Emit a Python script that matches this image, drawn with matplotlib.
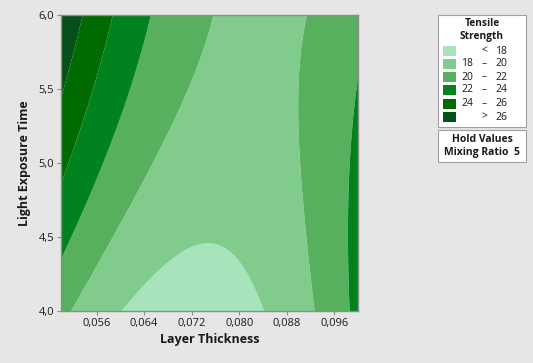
import numpy as np
import matplotlib.pyplot as plt
from matplotlib.patches import Rectangle

plt.rcParams['font.family'] = ['Open Sans', 'DejaVu Sans']

# Points lying on the Tensile Strength contour lines (Mixing Ratio held at 5)
contour_level = [26, 26, 24, 24, 22, 22, 22, 22, 22,
                 20, 20, 20, 20, 20, 20, 18, 18, 18]
contour_thickness = [0.05359, 0.0500, 0.05887, 0.0500, 0.06527, 0.0500, 0.0986, 0.1000, 0.09848,
                     0.07554, 0.09175, 0.0518, 0.09276, 0.0897, 0.0650, 0.06022, 0.08434, 0.0748]
contour_exposure = [6.000, 5.444, 6.000, 4.872, 6.000, 4.345, 4.000, 5.549, 5.020,
                    6.000, 6.000, 4.000, 4.000, 5.135, 5.000, 4.000, 4.000, 4.441]

band_edges = [18, 20, 22, 24, 26]
band_labels = [('', '<', '18'), ('18', '–', '20'), ('20', '–', '22'),
               ('22', '–', '24'), ('24', '–', '26'), ('', '>', '26')]
band_colors = ['#a7e4bb', '#81cc8c', '#57b05d', '#00831f', '#006b00', '#054f1b']

x_ticks = [0.056, 0.064, 0.072, 0.080, 0.088, 0.096]
y_ticks = [4.0, 4.5, 5.0, 5.5, 6.0]
x_range = (0.05, 0.10)
y_range = (4.0, 6.0)

# Full quadratic response surface fitted through the contour points
def design(x, y):
    u = (np.asarray(x) - 0.075) / 0.025
    v = np.asarray(y) - 5.0
    return np.stack([np.ones_like(u), u, v, u * u, v * v, u * v], axis=-1)

coef, *_ = np.linalg.lstsq(design(contour_thickness, contour_exposure),
                           np.asarray(contour_level, float), rcond=None)

gx = np.linspace(*x_range, 400)
gy = np.linspace(*y_range, 400)
GX, GY = np.meshgrid(gx, gy)
GZ = design(GX, GY) @ coef

W, H = 533, 363
fig = plt.figure(figsize=(W / 100, H / 100), dpi=100)
fig.patch.set_facecolor('#e6e6e6')

def fx(px):
    return px / W

def fy(py):
    return 1 - py / H

ax = fig.add_axes([fx(61), fy(311), fx(358) - fx(61), fy(15) - fy(311)])
levels = [min(GZ.min(), 0)] + band_edges + [max(GZ.max(), 100)]
ax.contourf(GX, GY, GZ, levels=levels, colors=band_colors, antialiased=True)
ax.set_xlim(*x_range)
ax.set_ylim(*y_range)

ax.set_xticks(x_ticks)
ax.set_xticklabels([f'{t:.3f}'.replace('.', ',') for t in x_ticks])
ax.set_yticks(y_ticks)
ax.set_yticklabels([f'{t:.1f}'.replace('.', ',') for t in y_ticks])
ax.tick_params(axis='both', labelsize=8, color='#8c8c8c', length=3, width=0.8,
               labelcolor='#1a1a1a', pad=2)
for s in ax.spines.values():
    s.set_color('#8c8c8c')
    s.set_linewidth(1.0)

ax.set_xlabel('Layer Thickness', fontsize=9, fontweight='bold', color='#1a1a1a', labelpad=3)
ax.set_ylabel('Light Exposure Time', fontsize=9, fontweight='bold', color='#1a1a1a', labelpad=5)

# Legend box for the contour bands
box_l, box_r = 438, 526
fig.patches.append(Rectangle((fx(box_l), fy(126.5)), fx(box_r) - fx(box_l), fy(15) - fy(126.5),
                             transform=fig.transFigure, facecolor='white',
                             edgecolor='#a0a0a0', linewidth=0.8))
fig.text(fx(482), fy(24), 'Tensile', ha='center', va='center', fontsize=7.3,
         fontweight='bold', color='#1a1a1a')
fig.text(fx(482), fy(36), 'Strength', ha='center', va='center', fontsize=7.3,
         fontweight='bold', color='#1a1a1a')
row_y = [51, 64, 77, 90, 103.5, 117]
for (lo, sep, hi), col, ry in zip(band_labels, band_colors, row_y):
    fig.patches.append(Rectangle((fx(443), fy(ry + 5)), fx(456) - fx(443), fy(ry - 5) - fy(ry + 5),
                                 transform=fig.transFigure, facecolor=col, edgecolor='none'))
    if lo:
        fig.text(fx(473), fy(ry), lo, ha='right', va='center', fontsize=7.5, color='#1a1a1a')
    fig.text(fx(484.5), fy(ry), sep, ha='center', va='center', fontsize=7.5, color='#1a1a1a')
    fig.text(fx(507), fy(ry), hi, ha='right', va='center', fontsize=7.5, color='#1a1a1a')

# Hold values box
fig.patches.append(Rectangle((fx(box_l), fy(161.5)), fx(box_r) - fx(box_l), fy(130) - fy(161.5),
                             transform=fig.transFigure, facecolor='white',
                             edgecolor='#a0a0a0', linewidth=0.8))
fig.text(fx(482), fy(139.5), 'Hold Values', ha='center', va='center', fontsize=7.5,
         fontweight='bold', color='#1a1a1a')
fig.text(fx(482), fy(152), 'Mixing Ratio  5', ha='center', va='center', fontsize=7.5,
         fontweight='bold', color='#1a1a1a')

fig.savefig('out.png', dpi=100, facecolor=fig.get_facecolor())
